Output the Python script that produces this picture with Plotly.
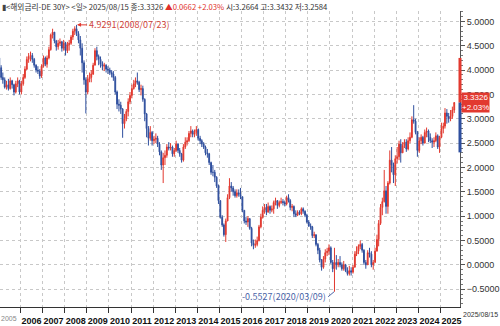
import pandas as pd
import plotly.graph_objects as go

# ---- monthly OHLC (DE 30Y yield, %) ----
years = list(range(2005, 2026))

open_ = [
    4.25, 4.05, 3.85, 3.80, 3.65, 3.70, 3.62, 3.78, 3.70, 3.55, 3.72, 3.78,
    3.55, 3.72, 3.85, 4.02, 4.22, 4.28, 4.30, 4.22, 4.10, 4.00, 3.98, 3.88,
    4.08, 4.25, 4.12, 4.25, 4.42, 4.72, 4.78, 4.60, 4.48, 4.55, 4.58, 4.45,
    4.55, 4.40, 4.52, 4.55, 4.68, 4.80, 4.85, 4.75, 4.62, 4.45, 4.15, 3.80,
    3.55, 3.82, 3.85, 3.92, 4.10, 4.40, 4.28, 4.22, 4.12, 4.08, 4.10, 4.02,
    4.00, 3.95, 3.92, 3.85, 3.55, 3.30, 3.28, 3.20, 2.90, 3.00, 3.15, 3.35,
    3.48, 3.62, 3.72, 3.78, 3.75, 3.60, 3.62, 3.40, 3.10, 2.80, 2.60, 2.72,
    2.55, 2.58, 2.60, 2.48, 2.32, 2.05, 2.20, 2.25, 2.42, 2.40, 2.42, 2.28,
    2.35, 2.48, 2.35, 2.28, 2.15, 2.42, 2.52, 2.55, 2.70, 2.75, 2.68, 2.72,
    2.78, 2.60, 2.55, 2.48, 2.42, 2.30, 2.28, 2.10, 1.90, 1.90, 1.80, 1.62,
    1.32, 0.98, 0.82, 0.62, 0.90, 1.38, 1.62, 1.58, 1.50, 1.42, 1.48, 1.45,
    1.40, 1.12, 0.90, 0.88, 0.95, 0.75, 0.45, 0.40, 0.42, 0.50, 0.78, 0.98,
    1.12, 1.18, 1.08, 1.20, 1.12, 1.15, 1.28, 1.32, 1.22, 1.28, 1.30, 1.28,
    1.25, 1.38, 1.32, 1.18, 1.20, 1.05, 1.02, 1.08, 1.05, 1.15, 1.10, 1.02,
    0.88, 0.80, 0.78, 0.60, 0.62, 0.42, 0.30, 0.10, -0.05, 0.12, 0.25, 0.28,
    0.35, 0.05, -0.08, 0.05, 0.00, 0.05, 0.00, -0.08, 0.00, -0.12, -0.18, -0.12,
    -0.15, -0.05, 0.22, 0.28, 0.38, 0.42, 0.30, 0.05, 0.00, 0.25, 0.22, 0.00,
    0.05, 0.28, 0.52, 0.85, 1.18, 1.30, 1.52, 1.20, 1.68, 2.15, 2.05, 1.85,
    2.18, 2.22, 2.48, 2.30, 2.45, 2.52, 2.38, 2.55, 2.62, 2.98, 2.95, 2.72,
    2.35, 2.55, 2.62, 2.50, 2.72, 2.75, 2.62, 2.55, 2.52, 2.55, 2.65, 2.42,
    2.62, 2.80, 2.85, 3.12, 3.05, 3.00, 3.05, 3.18,
]
high = [
    4.30, 4.10, 3.95, 3.85, 3.78, 3.82, 3.85, 3.80, 3.72, 3.78, 3.85, 3.80,
    3.78, 3.92, 4.08, 4.28, 4.35, 4.38, 4.35, 4.25, 4.12, 4.08, 4.02, 4.12,
    4.30, 4.28, 4.30, 4.48, 4.75, 4.85, 4.78, 4.62, 4.62, 4.65, 4.60, 4.62,
    4.58, 4.58, 4.62, 4.72, 4.85, 4.90, 4.9291, 4.80, 4.70, 4.55, 4.20, 3.85,
    3.90, 3.95, 4.00, 4.15, 4.45, 4.48, 4.32, 4.28, 4.18, 4.15, 4.12, 4.08,
    4.05, 4.00, 3.98, 3.88, 3.58, 3.40, 3.35, 3.22, 3.10, 3.20, 3.42, 3.55,
    3.70, 3.80, 3.85, 3.95, 3.78, 3.70, 3.68, 3.42, 3.12, 2.85, 2.85, 2.75,
    2.65, 2.70, 2.65, 2.52, 2.35, 2.30, 2.35, 2.48, 2.52, 2.50, 2.45, 2.40,
    2.55, 2.50, 2.40, 2.30, 2.48, 2.62, 2.62, 2.75, 2.85, 2.78, 2.78, 2.85,
    2.80, 2.65, 2.58, 2.52, 2.45, 2.38, 2.30, 2.12, 2.05, 1.95, 1.82, 1.65,
    1.32, 1.02, 0.85, 0.95, 1.45, 1.78, 1.70, 1.62, 1.55, 1.55, 1.55, 1.58,
    1.40, 1.12, 0.98, 1.00, 0.95, 0.78, 0.52, 0.52, 0.58, 0.82, 1.05, 1.20,
    1.25, 1.25, 1.28, 1.22, 1.22, 1.32, 1.38, 1.32, 1.32, 1.38, 1.35, 1.32,
    1.42, 1.45, 1.35, 1.25, 1.22, 1.12, 1.12, 1.12, 1.18, 1.18, 1.12, 1.05,
    0.92, 0.85, 0.80, 0.68, 0.62, 0.45, 0.35, 0.12, 0.18, 0.32, 0.35, 0.42,
    0.38, 0.10, 0.35, 0.20, 0.12, 0.18, 0.05, 0.08, 0.02, -0.05, -0.02, -0.05,
    0.00, 0.28, 0.38, 0.42, 0.50, 0.45, 0.32, 0.10, 0.30, 0.35, 0.28, 0.10,
    0.35, 0.62, 0.92, 1.25, 1.38, 1.95, 1.62, 1.72, 2.35, 2.42, 2.10, 2.25,
    2.42, 2.55, 2.58, 2.52, 2.58, 2.58, 2.62, 2.72, 3.05, 3.28, 3.00, 2.75,
    2.62, 2.68, 2.65, 2.78, 2.82, 2.78, 2.70, 2.60, 2.62, 2.72, 2.68, 2.65,
    2.92, 2.92, 3.22, 3.20, 3.12, 3.18, 3.25, 3.3432,
]
low = [
    4.00, 3.80, 3.72, 3.62, 3.60, 3.58, 3.60, 3.62, 3.48, 3.52, 3.65, 3.50,
    3.50, 3.68, 3.82, 4.00, 4.15, 4.18, 4.15, 4.05, 3.95, 3.92, 3.82, 3.84,
    4.05, 4.08, 4.05, 4.22, 4.40, 4.65, 4.55, 4.40, 4.42, 4.50, 4.38, 4.40,
    4.30, 4.35, 4.40, 4.52, 4.62, 4.72, 4.70, 4.55, 4.30, 3.95, 3.70, 3.11,
    3.50, 3.75, 3.75, 3.90, 4.10, 4.20, 4.10, 4.05, 4.00, 3.98, 3.95, 3.92,
    3.90, 3.85, 3.78, 3.50, 3.20, 3.15, 3.10, 2.61, 2.80, 2.95, 3.05, 3.30,
    3.42, 3.60, 3.65, 3.70, 3.55, 3.48, 3.35, 2.95, 2.62, 2.45, 2.55, 2.45,
    2.48, 2.50, 2.42, 2.25, 1.95, 1.68, 2.05, 2.20, 2.35, 2.35, 2.22, 2.22,
    2.32, 2.30, 2.22, 2.10, 2.12, 2.38, 2.45, 2.52, 2.62, 2.62, 2.62, 2.65,
    2.55, 2.48, 2.42, 2.38, 2.25, 2.20, 2.05, 1.85, 1.82, 1.70, 1.58, 1.25,
    0.95, 0.78, 0.58, 0.47, 0.90, 1.35, 1.50, 1.42, 1.38, 1.38, 1.40, 1.35,
    1.08, 0.85, 0.82, 0.78, 0.72, 0.38, 0.32, 0.35, 0.38, 0.48, 0.75, 0.95,
    1.05, 1.02, 1.08, 1.05, 1.08, 1.05, 1.22, 1.15, 1.18, 1.25, 1.22, 1.20,
    1.22, 1.28, 1.12, 1.10, 0.98, 0.98, 1.00, 1.02, 1.02, 1.05, 0.98, 0.85,
    0.78, 0.72, 0.55, 0.55, 0.38, 0.22, 0.05, -0.12, -0.08, 0.05, 0.18, 0.20,
    0.02, -0.15, -0.5527, -0.10, -0.05, -0.05, -0.12, -0.12, -0.15, -0.22, -0.22, -0.22,
    -0.18, -0.05, 0.18, 0.22, 0.32, 0.25, 0.00, -0.08, 0.00, 0.15, -0.05, -0.10,
    0.05, 0.28, 0.38, 0.82, 1.02, 1.28, 1.05, 1.05, 1.65, 1.90, 1.68, 1.62,
    2.08, 2.15, 2.10, 2.30, 2.40, 2.32, 2.35, 2.50, 2.60, 2.90, 2.68, 2.22,
    2.30, 2.48, 2.45, 2.50, 2.62, 2.52, 2.50, 2.40, 2.42, 2.52, 2.38, 2.30,
    2.60, 2.70, 2.80, 2.90, 2.92, 2.95, 3.00, 3.12,
]
close = [
    4.05, 3.85, 3.80, 3.65, 3.70, 3.62, 3.78, 3.70, 3.55, 3.72, 3.78, 3.55,
    3.72, 3.85, 4.02, 4.22, 4.28, 4.30, 4.22, 4.10, 4.00, 3.98, 3.88, 4.08,
    4.25, 4.12, 4.25, 4.42, 4.72, 4.78, 4.60, 4.48, 4.55, 4.58, 4.45, 4.55,
    4.40, 4.52, 4.55, 4.68, 4.80, 4.85, 4.75, 4.62, 4.45, 4.15, 3.80, 3.55,
    3.82, 3.85, 3.92, 4.10, 4.40, 4.28, 4.22, 4.12, 4.08, 4.10, 4.02, 4.00,
    3.95, 3.92, 3.85, 3.55, 3.30, 3.28, 3.20, 2.90, 3.00, 3.15, 3.35, 3.48,
    3.62, 3.72, 3.78, 3.75, 3.60, 3.62, 3.40, 3.10, 2.80, 2.60, 2.72, 2.55,
    2.58, 2.60, 2.48, 2.32, 2.05, 2.20, 2.25, 2.42, 2.40, 2.42, 2.28, 2.35,
    2.48, 2.35, 2.28, 2.15, 2.42, 2.52, 2.55, 2.70, 2.75, 2.68, 2.72, 2.78,
    2.60, 2.55, 2.48, 2.42, 2.30, 2.28, 2.10, 1.90, 1.90, 1.80, 1.62, 1.32,
    0.98, 0.82, 0.62, 0.90, 1.38, 1.62, 1.58, 1.50, 1.42, 1.48, 1.45, 1.40,
    1.12, 0.90, 0.88, 0.95, 0.75, 0.45, 0.40, 0.42, 0.50, 0.78, 0.98, 1.12,
    1.18, 1.08, 1.20, 1.12, 1.15, 1.28, 1.32, 1.22, 1.28, 1.30, 1.28, 1.25,
    1.38, 1.32, 1.18, 1.20, 1.05, 1.02, 1.08, 1.05, 1.15, 1.10, 1.02, 0.88,
    0.80, 0.78, 0.60, 0.62, 0.42, 0.30, 0.10, -0.05, 0.12, 0.25, 0.28, 0.35,
    0.05, -0.08, 0.05, 0.00, 0.05, 0.00, -0.08, 0.00, -0.12, -0.18, -0.12, -0.15,
    -0.05, 0.22, 0.28, 0.38, 0.42, 0.30, 0.05, 0.00, 0.25, 0.22, 0.00, 0.05,
    0.28, 0.52, 0.85, 1.18, 1.30, 1.52, 1.20, 1.68, 2.15, 2.05, 1.85, 2.18,
    2.22, 2.48, 2.30, 2.45, 2.52, 2.38, 2.55, 2.62, 2.98, 2.95, 2.72, 2.35,
    2.55, 2.62, 2.50, 2.72, 2.75, 2.62, 2.55, 2.52, 2.55, 2.65, 2.42, 2.62,
    2.80, 2.85, 3.12, 3.05, 3.00, 3.05, 3.18, 3.3326,
]
dates = pd.date_range("2005-01-01", periods=len(close), freq="MS") + pd.Timedelta(days=14)

peak_date, peak_val = "2008-07-23", 4.9291
low_date, low_val = "2020-03-09", -0.5527
last_val, last_pct = 3.3326, "+2.03%"
range_high, range_low = 4.25, 2.31

header = ("<span style='color:#444'>▮</span>&lt;해외금리-DE 30Y&gt; &lt;일&gt; 2025/08/15 종:3.3326 "
          "<span style='color:#e0302a'>▲0.0662 +2.03%</span> 시:3.2664 고:3.3432 저:3.2584")

RED = "#e2392f"
BLUE = "#2f4f9e"
NARROW = "Liberation Sans Narrow, Noto Sans CJK KR"

fig = go.Figure()
fig.add_trace(go.Candlestick(
    x=dates, open=open_, high=high, low=low, close=close,
    increasing=dict(line=dict(color=RED, width=1), fillcolor=RED),
    decreasing=dict(line=dict(color=BLUE, width=1), fillcolor=BLUE),
    whiskerwidth=0, showlegend=False, hoverinfo="skip",
))

tickvals = [f"{y}-01-01" for y in years[1:]]
ticktext = [str(y) for y in years[1:]]

fig.update_layout(
    width=500, height=326,
    margin=dict(l=0, r=36, t=11, b=12),
    paper_bgcolor="white", plot_bgcolor="white",
    showlegend=False,
    xaxis=dict(
        type="date", range=["2005-01-27", "2025-11-18"],
        rangeslider=dict(visible=False),
        tickvals=tickvals, ticktext=ticktext,
        ticks="outside", ticklen=5, tickcolor="#333",
        showline=True, linecolor="#333", linewidth=1,
        showgrid=True, gridcolor="#c8c8c8", griddash="dot", gridwidth=1,
        tickfont=dict(family="Liberation Sans", size=9, color="#111", weight="bold"),
        ticklabelshift=11, ticklabelstandoff=0,
        fixedrange=True,
    ),
    yaxis=dict(
        side="right", range=[-0.866, 5.214],
        tick0=0, dtick=0.5, tickformat=".4f",
        ticks="outside", ticklen=4, tickcolor="#555",
        showline=True, linecolor="#555", linewidth=1,
        showgrid=True, gridcolor="#c8c8c8", griddash="dot", gridwidth=1,
        zeroline=False,
        tickfont=dict(family="Liberation Sans", size=9, color="#333"),
        minor=dict(ticks="outside", ticklen=2, dtick=0.1, tickcolor="#777", showgrid=False),
        fixedrange=True,
    ),
)

# current range bar on the price axis
fig.add_shape(type="line", xref="paper", yref="y", x0=1, x1=1, y0=range_high, y1=last_val,
              line=dict(color=RED, width=3), layer="above")
fig.add_shape(type="line", xref="paper", yref="y", x0=1, x1=1, y0=last_val, y1=range_low,
              line=dict(color=BLUE, width=3), layer="above")

# header
fig.add_annotation(xref="paper", yref="paper", x=0, y=1, xanchor="left", yanchor="top",
                   xshift=1, yshift=11, borderpad=0, text=header, showarrow=False,
                   font=dict(family=NARROW, size=7.7, color="#333"))

# max / min markers
fig.add_annotation(x=peak_date, y=peak_val, text=f"{peak_val:.4f}({peak_date.replace('-', '/')})",
                   showarrow=True, arrowhead=2, arrowsize=0.8, arrowwidth=1, arrowcolor=RED,
                   ax=10, ay=0, xanchor="left",
                   font=dict(family=NARROW, size=9, color="#d0453a"))
fig.add_annotation(x=low_date, y=low_val, text=f"{low_val:.4f}({low_date.replace('-', '/')})",
                   showarrow=True, arrowhead=0, arrowwidth=1, arrowcolor="#4a64a8",
                   ax=-6, ay=5, xanchor="right",
                   font=dict(family=NARROW, size=9, color="#4a64a8"))

# last price box
fig.add_annotation(xref="paper", yref="y", x=1, y=last_val, xanchor="left", xshift=1,
                   text=f"{last_val:.4f}<br>{last_pct}", showarrow=False, align="center",
                   bgcolor=RED, borderpad=0,
                   font=dict(family="Liberation Sans", size=8, color="white"))

# axis-end labels
fig.add_annotation(xref="paper", yref="paper", x=0, y=0, xanchor="left", yanchor="top",
                   yshift=-7, text="2005", showarrow=False, borderpad=0,
                   font=dict(family="Liberation Sans", size=7, color="#888"))
fig.add_annotation(xref="paper", yref="paper", x=1, y=0, xanchor="left", yanchor="top",
                   yshift=-2, xshift=1, text="2025/08/15", showarrow=False,
                   font=dict(family="Liberation Sans", size=7, color="#333"))

fig.write_html("out.html")
